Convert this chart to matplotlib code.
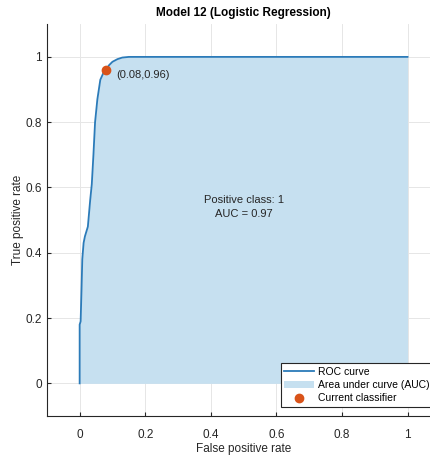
import matplotlib
matplotlib.use("Agg")
import matplotlib.pyplot as plt
import numpy as np

plt.rcParams['font.family'] = ['Liberation Sans', 'DejaVu Sans']

# ROC curve points
fpr = [0.0, 0.0, 0.003, 0.006, 0.008, 0.012, 0.016, 0.025, 0.032, 0.037, 0.042,
       0.047, 0.054, 0.063, 0.072, 0.08, 0.09, 0.10, 0.115, 0.13, 0.15, 1.0]
tpr = [0.0, 0.18, 0.19, 0.30, 0.38, 0.43, 0.45, 0.48, 0.56, 0.61, 0.70,
       0.80, 0.87, 0.93, 0.95, 0.96, 0.975, 0.985, 0.993, 0.998, 1.0, 1.0]
cur_fpr, cur_tpr = 0.08, 0.96
auc = 0.97
pos_class = 1
ticks = [0, 0.2, 0.4, 0.6, 0.8, 1]

line_c = '#2b7bb9'
fill_c = '#c6e0f0'
dot_c = '#d95319'
txt_c = '#262626'

fig = plt.figure(figsize=(4.3, 4.55), dpi=100)
ax = fig.add_axes([0.109, 0.0857, 0.915, 0.861])

ax.fill_between(fpr, tpr, 0, color=fill_c, linewidth=0, label='Area under curve (AUC)', zorder=1)
ax.plot(fpr, tpr, color=line_c, linewidth=1.3, label='ROC curve', zorder=2)
ax.plot(cur_fpr, cur_tpr, 'o', color=dot_c, markersize=6, label='Current classifier', zorder=3)

ax.text(cur_fpr + 0.033, cur_tpr - 0.024, f'({cur_fpr:.2f},{cur_tpr:.2f})', fontsize=8, color=txt_c)
ax.text(0.5, 0.54, f'Positive class: {pos_class}\nAUC = {auc:.2f}', ha='center', va='center',
        fontsize=8, color=txt_c, linespacing=1.55)

ax.set_xlim(-0.1, 1.1)
ax.set_ylim(-0.1, 1.1)
ax.set_xticks(ticks)
ax.set_yticks(ticks)
ax.set_xticklabels([f'{t:g}' for t in ticks])
ax.set_yticklabels([f'{t:g}' for t in ticks])
ax.tick_params(direction='in', length=3, labelsize=8.5, colors=txt_c)
ax.tick_params(axis='x', pad=9.5)
ax.tick_params(axis='y', pad=3.5)
ax.grid(True, color='#e6e6e6', linewidth=0.7)
ax.set_axisbelow(True)
for s in ['top', 'right']:
    ax.spines[s].set_visible(False)
for s in ['left', 'bottom']:
    ax.spines[s].set_color(txt_c)
    ax.spines[s].set_linewidth(0.8)

ax.set_xlabel('False positive rate', fontsize=8.5, color=txt_c)
ax.set_ylabel('True positive rate', fontsize=8.5, color=txt_c)
ax.xaxis.set_label_coords(0.5, -0.069)
ax.yaxis.set_label_coords(-0.058, 0.5)
ax.set_title('Model 12 (Logistic Regression)', fontsize=8.5, fontweight='bold', pad=6)

h, l = ax.get_legend_handles_labels()
order = [1, 0, 2]
leg = ax.legend([h[i] for i in order], [l[i] for i in order], loc='lower right',
                bbox_to_anchor=(0.981, 0.023), borderaxespad=0, fontsize=7.5, frameon=True,
                fancybox=False, edgecolor=txt_c, framealpha=1, handlelength=2.9,
                borderpad=0.35, labelspacing=0.3, handletextpad=0.3)
leg.get_frame().set_linewidth(0.8)

fig.savefig('out.png', dpi=100)
